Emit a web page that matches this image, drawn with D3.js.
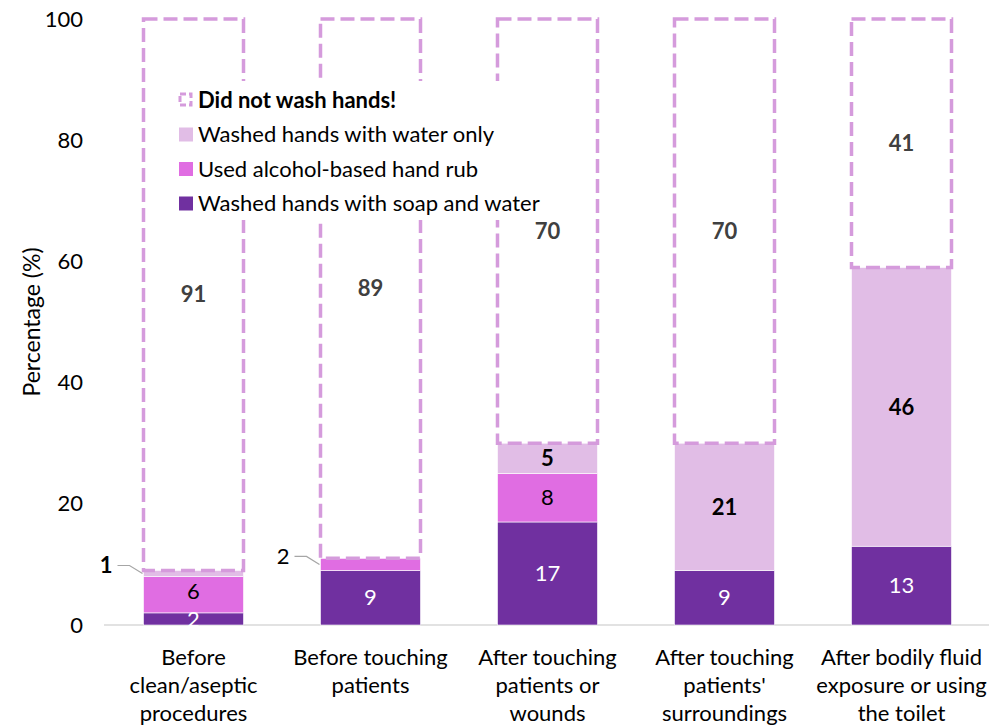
<!DOCTYPE html>
<html>

<head>
    <script src="https://cdnjs.cloudflare.com/ajax/libs/d3/7.8.5/d3.min.js"></script>
    <style>
        body {
            margin: 0;
            background: #fff;
        }

        text {
            font-family: Lato, 'Noto Sans', sans-serif;
        }
    </style>
</head>

<body>
    <script>
        // chart values
        const categories = [
            ["Before", "clean/aseptic", "procedures"],
            ["Before touching", "patients"],
            ["After touching", "patients or", "wounds"],
            ["After touching", "patients'", "surroundings"],
            ["After bodily fluid", "exposure or using", "the toilet"]
        ]
        const soapWater = [2, 9, 17, 9, 13]
        const alcoholRub = [6, 2, 8, 0, 0]
        const waterOnly = [1, 0, 5, 21, 46]
        const notWashed = [91, 89, 70, 70, 41]
        const yTicks = [0, 20, 40, 60, 80, 100]

        const seriesNames = ["Did not wash hands!", "Washed hands with water only", "Used alcohol-based hand rub", "Washed hands with soap and water"]

        const w = 989
        const h = 728
        const margin = { top: 19, right: 0, bottom: 103, left: 105 }
        const fs = 22

        const col = {
            soap: "#7030a0",
            alcohol: "#e06de2",
            water: "#e1bde6",
            dash: "#d59bdc"
        }

        const svg = d3.select("body")
            .append("svg")
            .attr("width", w)
            .attr("height", h)

        const x = d3.scaleBand()
            .domain(d3.range(categories.length))
            .range([margin.left, w - margin.right + 1])
            .paddingInner(0.435)
            .paddingOuter(0.2175)

        const y = d3.scaleLinear()
            .domain([0, 100])
            .range([h - margin.bottom, margin.top])

        // stacked data
        const rows = categories.map((c, i) => ({
            i: i,
            soap: soapWater[i],
            alcohol: alcoholRub[i],
            water: waterOnly[i],
            none: notWashed[i]
        }))
        const keys = ["soap", "alcohol", "water"]
        const stack = d3.stack().keys(keys)(rows)

        // x axis line
        svg.append("line")
            .attr("x1", margin.left - 1)
            .attr("x2", w)
            .attr("y1", y(0))
            .attr("y2", y(0))
            .attr("stroke", "#d9d9d9")
            .attr("stroke-width", 1.5)

        // y tick labels
        const yAxis = d3.axisLeft(y).tickValues(yTicks).tickSize(0).tickPadding(0)
        const ya = svg.append("g")
            .attr("transform", `translate(${margin.left - 22},0)`)
            .call(yAxis)
        ya.select(".domain").remove()
        ya.selectAll("text")
            .attr("font-family", null)
            .attr("font-size", fs)
            .attr("fill", "#000")

        // category labels
        const xl = svg.append("g")
        categories.forEach((lines, i) => {
            const t = xl.append("text")
                .attr("text-anchor", "middle")
                .attr("font-size", fs)
                .attr("fill", "#000")
            lines.forEach((ln, j) => {
                t.append("tspan")
                    .attr("x", x(i) + x.bandwidth() / 2)
                    .attr("y", 665 + j * 28)
                    .text(ln)
            })
        })

        // y axis title
        svg.append("text")
            .attr("transform", `translate(40,${(y(0) + y(100)) / 2}) rotate(-90)`)
            .attr("text-anchor", "middle")
            .attr("font-size", 23)
            .attr("fill", "#000")
            .text("Percentage (%)")

        // filled segments
        svg.selectAll("g.layer")
            .data(stack)
            .enter()
            .append("g")
            .attr("class", "layer")
            .attr("fill", d => col[d.key])
            .selectAll("rect")
            .data(d => d)
            .enter()
            .append("rect")
            .attr("x", d => x(d.data.i))
            .attr("y", d => y(d[1]))
            .attr("width", x.bandwidth())
            .attr("height", d => y(d[0]) - y(d[1]))
            .attr("stroke", "#fff")
            .attr("stroke-width", d => (d[1] - d[0]) > 0 ? 0.6 : 0)

        // dashed "did not wash" boxes
        const topOf = stack[stack.length - 1]
        svg.selectAll("rect.none")
            .data(rows)
            .enter()
            .append("rect")
            .attr("class", "none")
            .attr("x", d => x(d.i))
            .attr("y", y(100))
            .attr("width", x.bandwidth())
            .attr("height", d => y(topOf[d.i][1]) - y(100))
            .attr("fill", "none")
            .attr("stroke", col.dash)
            .attr("stroke-width", 3.5)
            .attr("stroke-dasharray", "14 6")

        // labels inside segments
        const labelStyle = {
            soap: { fill: "#fff", weight: "normal" },
            alcohol: { fill: "#000", weight: "normal" },
            water: { fill: "#000", weight: "bold" }
        }
        // y of the last label drawn inside each bar, to keep them apart
        const lastY = categories.map(() => Infinity)
        stack.forEach(layer => {
            const st = labelStyle[layer.key]
            layer.forEach(d => {
                const v = d[1] - d[0]
                if (v <= 0) return
                const bx = x(d.data.i)
                let cy = y((d[0] + d[1]) / 2)
                if (v >= 3 || layer.key == "soap") {
                    cy = Math.min(cy, lastY[d.data.i] - 28)
                    lastY[d.data.i] = cy
                    svg.append("text")
                        .attr("x", bx + x.bandwidth() / 2)
                        .attr("y", cy)
                        .attr("dy", "0.35em")
                        .attr("text-anchor", "middle")
                        .attr("font-size", fs)
                        .attr("font-weight", st.weight)
                        .attr("fill", st.fill)
                        .text(v)
                } else {
                    // small segment: label outside with a leader line
                    svg.append("path")
                        .attr("d", `M${bx - 26},${cy - 8}L${bx - 14},${cy - 8}L${bx - 1},${cy}`)
                        .attr("fill", "none")
                        .attr("stroke", "#a6a6a6")
                        .attr("stroke-width", 1.2)
                    svg.append("text")
                        .attr("x", bx - 31)
                        .attr("y", cy - 8)
                        .attr("dy", "0.35em")
                        .attr("text-anchor", "end")
                        .attr("font-size", fs)
                        .attr("font-weight", st.weight)
                        .attr("fill", "#000")
                        .text(v)
                }
            })
        })

        // labels of the dashed boxes
        svg.selectAll("text.none")
            .data(rows)
            .enter()
            .append("text")
            .attr("class", "none")
            .attr("x", d => x(d.i) + x.bandwidth() / 2)
            .attr("y", d => y((topOf[d.i][1] + 100) / 2))
            .attr("dy", "0.35em")
            .attr("text-anchor", "middle")
            .attr("font-size", fs)
            .attr("font-weight", "bold")
            .attr("fill", "#404040")
            .text(d => d.none)

        // legend, with white background over the bars
        const lg = svg.append("g")
        lg.append("rect")
            .attr("x", 152)
            .attr("y", 81)
            .attr("width", 408)
            .attr("height", 139)
            .attr("fill", "#fff")

        const legendColors = [null, col.water, col.alcohol, col.soap]
        seriesNames.forEach((name, i) => {
            const ly = 100 + i * 34.5
            if (i == 0) {
                lg.append("rect")
                    .attr("x", 180)
                    .attr("y", ly - 6)
                    .attr("width", 11)
                    .attr("height", 11)
                    .attr("fill", "none")
                    .attr("stroke", col.dash)
                    .attr("stroke-width", 3)
                    .attr("stroke-dasharray", "6 3")
            } else {
                lg.append("rect")
                    .attr("x", 179)
                    .attr("y", ly - 7)
                    .attr("width", 14)
                    .attr("height", 14)
                    .attr("fill", legendColors[i])
            }
            lg.append("text")
                .attr("x", 198)
                .attr("y", ly)
                .attr("dy", "0.35em")
                .attr("font-size", 22)
                .attr("font-weight", i == 0 ? "bold" : "normal")
                .attr("fill", "#000")
                .text(name)
        })
    </script>
</body>

</html>
